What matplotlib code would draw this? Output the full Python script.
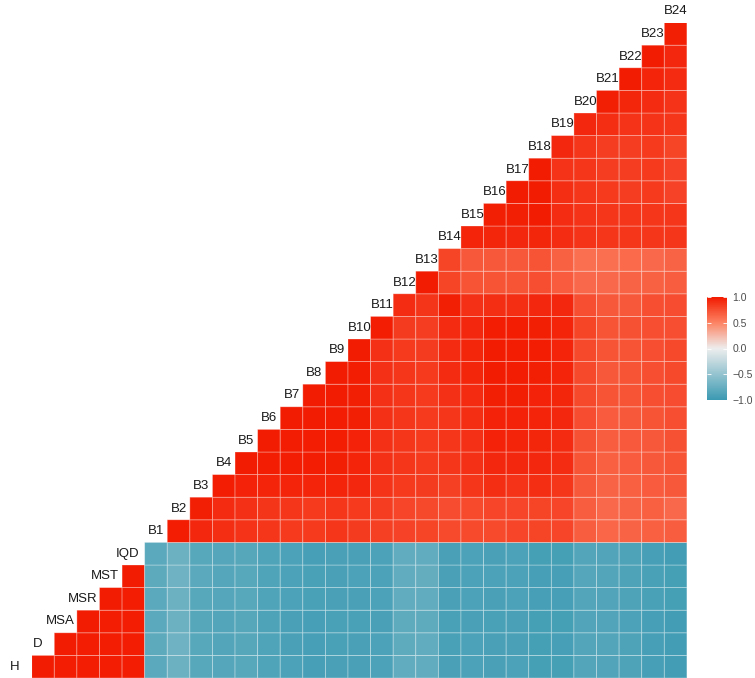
import numpy as np
import matplotlib
matplotlib.use("Agg")
import matplotlib.pyplot as plt
from matplotlib.colors import LinearSegmentedColormap

plt.rcParams['font.family'] = ['Liberation Sans', 'DejaVu Sans']

# variable names, in plotting order
site_vars = ["H", "D", "MSA", "MSR", "MST", "IQD"]
band_vars = ["B%d" % i for i in range(1, 25)]
names = site_vars + band_vars

# correlations among the site variables (upper triangle, row by row)
site_corr = [
    [0.99, 0.98, 0.98, 0.98, 0.98],
    [0.99, 0.98, 0.98, 0.98],
    [0.99, 0.98, 0.98],
    [0.99, 0.98],
    [0.99],
]

# site variables vs bands B1..B24
cross_corr = [
    [-0.82, -0.72, -0.83, -0.85, -0.83, -0.88, -0.90, -0.93, -0.91, -0.91, -0.90, -0.78,
     -0.78, -0.91, -0.90, -0.91, -0.90, -0.94, -0.94, -0.86, -0.87, -0.89, -0.93, -0.95],
    [-0.81, -0.71, -0.83, -0.86, -0.84, -0.88, -0.91, -0.93, -0.92, -0.91, -0.90, -0.79,
     -0.78, -0.92, -0.90, -0.91, -0.91, -0.94, -0.93, -0.86, -0.86, -0.89, -0.93, -0.95],
    [-0.82, -0.72, -0.84, -0.86, -0.84, -0.89, -0.91, -0.93, -0.92, -0.92, -0.91, -0.79,
     -0.79, -0.92, -0.91, -0.92, -0.91, -0.94, -0.94, -0.87, -0.87, -0.90, -0.93, -0.95],
    [-0.82, -0.72, -0.83, -0.85, -0.83, -0.88, -0.90, -0.92, -0.91, -0.91, -0.90, -0.78,
     -0.78, -0.91, -0.90, -0.91, -0.90, -0.93, -0.93, -0.86, -0.87, -0.89, -0.92, -0.94],
    [-0.81, -0.71, -0.82, -0.85, -0.83, -0.88, -0.90, -0.92, -0.91, -0.90, -0.90, -0.78,
     -0.77, -0.91, -0.90, -0.90, -0.90, -0.93, -0.93, -0.85, -0.86, -0.89, -0.92, -0.94],
    [-0.82, -0.72, -0.83, -0.85, -0.84, -0.88, -0.90, -0.93, -0.91, -0.91, -0.90, -0.78,
     -0.78, -0.91, -0.90, -0.91, -0.90, -0.94, -0.94, -0.86, -0.87, -0.89, -0.93, -0.95],
]

# band vs band (Bi with Bi+1..B24)
band_corr = [
    [0.98, 0.93, 0.90, 0.88, 0.86, 0.85, 0.85, 0.86, 0.84, 0.82, 0.81, 0.80, 0.77, 0.77, 0.77, 0.79, 0.80, 0.79, 0.68, 0.64, 0.65, 0.67, 0.68],
    [0.97, 0.92, 0.89, 0.87, 0.86, 0.85, 0.86, 0.85, 0.83, 0.79, 0.78, 0.76, 0.77, 0.79, 0.79, 0.80, 0.79, 0.68, 0.63, 0.65, 0.67, 0.63],
    [0.98, 0.96, 0.95, 0.95, 0.95, 0.95, 0.93, 0.88, 0.85, 0.84, 0.82, 0.86, 0.90, 0.88, 0.90, 0.86, 0.71, 0.65, 0.67, 0.69, 0.71],
    [0.99, 0.98, 0.98, 0.98, 0.97, 0.95, 0.89, 0.86, 0.85, 0.86, 0.89, 0.93, 0.93, 0.93, 0.91, 0.73, 0.67, 0.69, 0.71, 0.73],
    [0.99, 0.98, 0.98, 0.98, 0.96, 0.89, 0.86, 0.85, 0.86, 0.89, 0.96, 0.95, 0.94, 0.92, 0.74, 0.68, 0.70, 0.71, 0.74],
    [0.99, 0.99, 0.98, 0.97, 0.89, 0.86, 0.85, 0.86, 0.90, 0.96, 0.96, 0.95, 0.93, 0.76, 0.69, 0.71, 0.73, 0.75],
    [0.99, 0.99, 0.97, 0.89, 0.86, 0.85, 0.89, 0.92, 0.97, 0.97, 0.96, 0.94, 0.78, 0.73, 0.73, 0.75, 0.76],
    [0.99, 0.98, 0.89, 0.86, 0.85, 0.92, 0.94, 0.99, 0.98, 0.97, 0.95, 0.78, 0.71, 0.73, 0.75, 0.78],
    [0.99, 0.89, 0.85, 0.84, 0.92, 0.94, 0.99, 0.98, 0.98, 0.95, 0.78, 0.73, 0.73, 0.75, 0.78],
    [0.98, 0.84, 0.83, 0.92, 0.93, 0.98, 0.98, 0.97, 0.95, 0.80, 0.73, 0.74, 0.75, 0.75],
    [0.91, 0.87, 0.97, 0.89, 0.90, 0.90, 0.93, 0.93, 0.75, 0.71, 0.71, 0.75, 0.76],
    [0.99, 0.80, 0.73, 0.73, 0.73, 0.75, 0.69, 0.63, 0.63, 0.65, 0.66, 0.68],
    [0.80, 0.71, 0.71, 0.71, 0.73, 0.66, 0.60, 0.60, 0.62, 0.63, 0.65],
    [0.95, 0.94, 0.93, 0.94, 0.91, 0.88, 0.86, 0.86, 0.86, 0.86],
    [0.97, 0.97, 0.99, 0.91, 0.88, 0.86, 0.86, 0.86, 0.86],
    [0.99, 0.99, 0.90, 0.86, 0.85, 0.83, 0.85, 0.81],
    [0.99, 0.88, 0.86, 0.83, 0.83, 0.85, 0.81],
    [0.93, 0.86, 0.83, 0.83, 0.85, 0.80],
    [0.93, 0.90, 0.88, 0.88, 0.86],
    [0.97, 0.94, 0.92, 0.88],
    [0.99, 0.95, 0.92],
    [0.99, 0.93],
    [0.97],
]

# assemble full correlation matrix
nv = len(names)
ns = len(site_vars)
corr = np.eye(nv)
for i, row in enumerate(site_corr):
    for k, v in enumerate(row):
        corr[i, i + 1 + k] = corr[i + 1 + k, i] = v
for i, row in enumerate(cross_corr):
    for k, v in enumerate(row):
        corr[i, ns + k] = corr[ns + k, i] = v
for i, row in enumerate(band_corr):
    for k, v in enumerate(row):
        a, b = ns + i, ns + i + 1 + k
        corr[a, b] = corr[b, a] = v

# staircase: row r = names[r], column c = names[c+1]
n = nv - 1
grid = np.full((n, n), np.nan)
for r in range(n):
    for c in range(r, n):
        grid[r, c] = corr[r, c + 1]
grid = np.ma.masked_invalid(grid)

# diverging scale, warm half kept saturated like a Lab blend
cmap = LinearSegmentedColormap.from_list(
    "corr", [(0.0, "#3B9AB2"), (0.5, "#EDEDED"), (0.75, "#FC8464"), (1.0, "#F21A00")])

fig = plt.figure(figsize=(7.55, 6.78), dpi=100)
ax = fig.add_axes([31.7 / 755, 0, 655.2 / 755, 655.4 / 678])
edges = np.arange(n + 1) - 0.5
X, Y = np.meshgrid(edges, edges)
mesh = ax.pcolor(X, Y, grid, cmap=cmap, vmin=-1, vmax=1,
                 edgecolors=(1, 1, 1, 0.35), linewidth=0.6)
ax.set_xlim(-0.5, n - 0.5)
ax.set_ylim(-0.5, n - 0.5)
ax.axis("off")

# variable names along the diagonal
for k, name in enumerate(names):
    xpos = k - 1 - (0.25 if k < ns else 0.0)
    ax.text(xpos, k, name, ha="center", va="center", fontsize=9.5,
            color="#1A1A1A", clip_on=False)

cax = fig.add_axes([707 / 755, 1 - 400 / 678, 20 / 755, 103 / 678])
cb = fig.colorbar(mesh, cax=cax, ticks=[-1, -0.5, 0, 0.5, 1])
cb.outline.set_visible(False)
cb.ax.set_yticklabels(["\u22121.0", "\u22120.5", "0.0", "0.5", "1.0"])
cb.ax.tick_params(color="white", labelcolor="#4D4D4D", labelsize=7.5,
                  length=3, width=0.6, direction="in", pad=4,
                  left=True, right=True, labelleft=False, labelright=True)

fig.savefig("out.png", dpi=100)
